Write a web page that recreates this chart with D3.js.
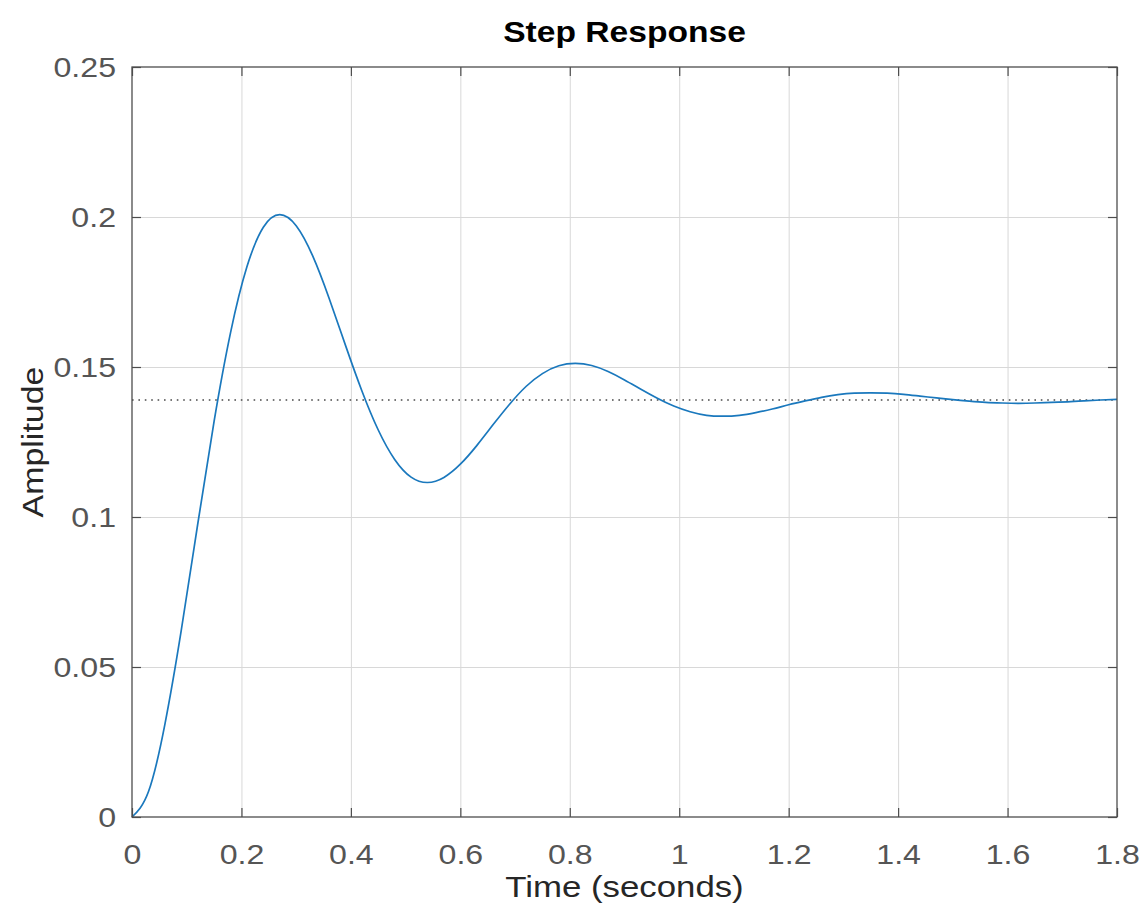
<!DOCTYPE html>
<html>
<head>
<meta charset="utf-8">
<script src="https://cdn.jsdelivr.net/npm/d3@7"></script>
<style>
  html, body { margin: 0; padding: 0; background: #fff; }
  text { font-family: "Liberation Sans", Arial, sans-serif; }
</style>
</head>
<body>
<div id="chart"></div>
<script>
// step response samples, every 0.03 s
var time = [0, 0.03, 0.06, 0.09, 0.12, 0.15, 0.18, 0.21, 0.24, 0.27,
  0.30, 0.33, 0.36, 0.39, 0.42, 0.45, 0.48, 0.51, 0.54, 0.57,
  0.60, 0.63, 0.66, 0.69, 0.72, 0.75, 0.78, 0.81, 0.84, 0.87,
  0.90, 0.93, 0.96, 0.99, 1.02, 1.05, 1.08, 1.11, 1.14, 1.17,
  1.20, 1.23, 1.26, 1.29, 1.32, 1.35, 1.38, 1.41, 1.44, 1.47,
  1.50, 1.53, 1.56, 1.59, 1.62, 1.65, 1.68, 1.71, 1.74, 1.77, 1.80];
var amplitude = [0, 0.0084, 0.0308, 0.0622, 0.0975, 0.1319, 0.1614, 0.1834, 0.1966, 0.2008,
  0.1971, 0.1871, 0.1730, 0.1573, 0.1421, 0.1290, 0.1192, 0.1133, 0.1115, 0.1132,
  0.1176, 0.1238, 0.1308, 0.1376, 0.1435, 0.1478, 0.1504, 0.1512, 0.1505, 0.1485,
  0.1457, 0.1426, 0.1396, 0.1370, 0.1351, 0.1339, 0.1336, 0.1339, 0.1348, 0.1360,
  0.1374, 0.1387, 0.1399, 0.1408, 0.1413, 0.1414, 0.1413, 0.1409, 0.1403, 0.1397,
  0.1391, 0.1386, 0.1382, 0.1380, 0.1379, 0.1380, 0.1382, 0.1384, 0.1387, 0.1390, 0.1392];
var steadyState = 0.139;

var xTicks = [0, 0.2, 0.4, 0.6, 0.8, 1, 1.2, 1.4, 1.6, 1.8];
var xTickLabels = ["0", "0.2", "0.4", "0.6", "0.8", "1", "1.2", "1.4", "1.6", "1.8"];
var yTicks = [0, 0.05, 0.1, 0.15, 0.2, 0.25];
var yTickLabels = ["0", "0.05", "0.1", "0.15", "0.2", "0.25"];

var data = time.map(function(t, i) { return {t: t, v: amplitude[i]}; });

// dimensions and margins
var margin = {top: 67, right: 31, bottom: 100, left: 132},
    width = 1148 - margin.left - margin.right,
    height = 917 - margin.top - margin.bottom;

var root = d3.select("#chart").append("svg")
  .attr("width", 1148).attr("height", 917);
var svg = root.append("g")
  .attr("transform", "translate(" + margin.left + "," + margin.top + ")");

var x = d3.scaleLinear().domain([0, 1.8]).range([0, width]);
var y = d3.scaleLinear().domain([0, 0.25]).range([height, 0]);

// grid
svg.append("g").attr("class", "grid")
  .call(d3.axisBottom(x).tickValues(xTicks.slice(1, -1)).tickSize(height).tickFormat(""));
svg.append("g").attr("class", "grid")
  .call(d3.axisLeft(y).tickValues(yTicks.slice(1, -1)).tickSize(-width).tickFormat(""));
svg.selectAll(".grid .domain").remove();
svg.selectAll(".grid line").attr("stroke", "#d8d8d8").attr("stroke-width", 1);

// steady state line
svg.append("line")
  .attr("x1", x(0)).attr("x2", x(1.8))
  .attr("y1", y(steadyState)).attr("y2", y(steadyState))
  .attr("stroke", "#4a4a4a").attr("stroke-width", 1.6)
  .attr("stroke-dasharray", "1.6,4.8");

// response curve
svg.append("path").datum(data)
  .attr("fill", "none")
  .attr("stroke", "#1a78bd")
  .attr("stroke-width", 1.7)
  .attr("d", d3.line().curve(d3.curveNatural)
    .x(function(d) { return x(d.t); })
    .y(function(d) { return y(d.v); }));

// axes, ticks pointing inward
var xAxis = svg.append("g").attr("transform", "translate(0," + height + ")")
  .call(d3.axisBottom(x).tickValues(xTicks).tickSizeInner(-9).tickSizeOuter(0).tickPadding(28)
    .tickFormat(function(d, i) { return xTickLabels[i]; }));
var yAxis = svg.append("g")
  .call(d3.axisLeft(y).tickValues(yTicks).tickSizeInner(-9).tickSizeOuter(0).tickPadding(16)
    .tickFormat(function(d, i) { return yTickLabels[i]; }));
svg.append("g")
  .call(d3.axisTop(x).tickValues(xTicks).tickSizeInner(-9).tickSizeOuter(0).tickFormat(""));
svg.append("g").attr("transform", "translate(" + width + ",0)")
  .call(d3.axisRight(y).tickValues(yTicks).tickSizeInner(-9).tickSizeOuter(0).tickFormat(""));

svg.selectAll(".domain").remove();
svg.selectAll(".tick line").filter(function() { return this.parentNode.parentNode.getAttribute("class") !== "grid"; })
  .attr("stroke", "#4d4d4d").attr("stroke-width", 1.2);
svg.selectAll(".tick text")
  .attr("font-family", "Liberation Sans, Arial, sans-serif")
  .attr("font-size", 27)
  .attr("fill", "#555")
  .style("transform-box", "fill-box")
  .style("transform", "scaleX(1.19)");
xAxis.selectAll(".tick text").attr("dy", "0.72em").style("transform-origin", "center");
yAxis.selectAll(".tick text").attr("dy", "0.36em").style("transform-origin", "right center");

// box
svg.append("rect")
  .attr("width", width).attr("height", height)
  .attr("fill", "none").attr("stroke", "#4d4d4d").attr("stroke-width", 1.3);

// labels
root.append("text")
  .attr("transform", "translate(" + (margin.left + width / 2) + ",42) scale(1.12,1)")
  .attr("text-anchor", "middle")
  .attr("font-size", 30).attr("font-weight", "bold").attr("fill", "#000")
  .text("Step Response");

root.append("text")
  .attr("transform", "translate(" + (margin.left + width / 2) + ",897) scale(1.2,1)")
  .attr("text-anchor", "middle")
  .attr("font-size", 29).attr("fill", "#262626")
  .text("Time (seconds)");

root.append("text")
  .attr("transform", "translate(43," + (margin.top + height / 2) + ") rotate(-90) scale(1.17,1)")
  .attr("text-anchor", "middle")
  .attr("font-size", 29).attr("fill", "#262626")
  .text("Amplitude");
</script>
</body>
</html>
